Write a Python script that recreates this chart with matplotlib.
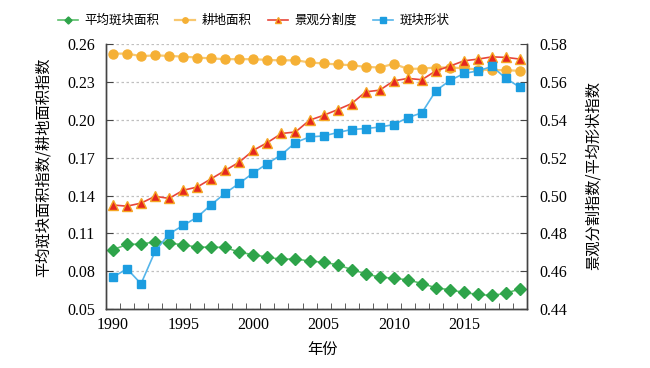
import matplotlib.pyplot as plt
import numpy as np

plt.rcParams['font.family'] = ['Liberation Serif', 'Noto Sans CJK SC', 'DejaVu Sans']

years = np.arange(1990, 2020)

# left axis
patch_area = [0.0970, 0.1013, 0.1015, 0.1034, 0.1023, 0.1010, 0.0991, 0.0991, 0.0989, 0.0951,
              0.0931, 0.0912, 0.0894, 0.0899, 0.0880, 0.0872, 0.0851, 0.0814, 0.0780, 0.0753,
              0.0745, 0.0732, 0.0703, 0.0669, 0.0653, 0.0632, 0.0616, 0.0608, 0.0626, 0.0661]
farmland = [0.2525, 0.2525, 0.2505, 0.2511, 0.2507, 0.2501, 0.2494, 0.2487, 0.2481, 0.2481,
            0.2481, 0.2475, 0.2471, 0.2473, 0.2455, 0.2447, 0.2439, 0.2433, 0.2420, 0.2415,
            0.2444, 0.2404, 0.2406, 0.2415, 0.2415, 0.2409, 0.2399, 0.2394, 0.2394, 0.2388]
# right axis
split_index = [0.4950, 0.4944, 0.4960, 0.4996, 0.4985, 0.5028, 0.5045, 0.5089, 0.5133, 0.5177,
               0.5239, 0.5280, 0.5328, 0.5336, 0.5398, 0.5424, 0.5454, 0.5486, 0.5548, 0.5557,
               0.5606, 0.5619, 0.5612, 0.5659, 0.5684, 0.5712, 0.5721, 0.5733, 0.5730, 0.5721]
shape_index = [0.4569, 0.4613, 0.4534, 0.4705, 0.4798, 0.4842, 0.4886, 0.4952, 0.5013, 0.5065,
               0.5120, 0.5169, 0.5216, 0.5280, 0.5310, 0.5315, 0.5333, 0.5349, 0.5354, 0.5362,
               0.5375, 0.5412, 0.5437, 0.5554, 0.5608, 0.5645, 0.5659, 0.5682, 0.5619, 0.5571]

left_ticks = [0.05, 0.08, 0.11, 0.14, 0.17, 0.20, 0.23, 0.26]
right_ticks = [0.44, 0.46, 0.48, 0.50, 0.52, 0.54, 0.56, 0.58]
names = ['平均斑块面积', '耕地面积', '景观分割度', '斑块形状']

fig = plt.figure(figsize=(6.5, 3.68), dpi=100)
ax = fig.add_axes([0.163, 0.160, 0.648, 0.720])
ax2 = ax.twinx()

l1, = ax.plot(years, patch_area, color='#5cbf6c', lw=1.2, marker='D', ms=6,
              mfc='#2ea44a', mec='#2ea44a')
l2, = ax.plot(years, farmland, color='#f8c870', lw=1.6, marker='o', ms=6.5,
              mfc='#f5b035', mec='#f5b035')
l3, = ax2.plot(years, split_index, color='#e8453a', lw=1.2, marker='^', ms=7.5,
               mfc='#e5271e', mec='#f5a623', mew=1)
l4, = ax2.plot(years, shape_index, color='#55b5ea', lw=1.2, marker='s', ms=6.3,
               mfc='#1c9de0', mec='#1c9de0')

ax.set_xlim(1989.5, 2019.5)
ax.set_ylim(0.05, 0.26)
ax2.set_ylim(0.44, 0.58)
ax.set_yticks(left_ticks)
ax.set_yticklabels(['%.2f' % t for t in left_ticks])
ax2.set_yticks(right_ticks)
ax2.set_yticklabels(['%.2f' % t for t in right_ticks])
ax.set_xticks(np.arange(1990, 2020, 5))
ax.set_xticks(np.arange(1990.5, 2019, 1), minor=True)

ax.yaxis.grid(True, ls=(0, (2, 2)), color='#c0c0c0', lw=0.9)
ax.set_axisbelow(True)

for a in (ax, ax2):
    a.spines['top'].set_visible(False)
    for s in a.spines.values():
        s.set_color('#444444')
        s.set_linewidth(1.0)
ax.tick_params(axis='x', which='major', length=0, pad=6, labelsize=11.5)
ax.tick_params(axis='x', which='minor', direction='in', length=4, color='#444444')
ax.tick_params(axis='y', direction='in', length=5, pad=8, labelsize=11.5, color='#444444')
ax2.tick_params(axis='y', direction='in', length=5, pad=9, labelsize=11.5, color='#444444')

ax.set_xlabel('年份', fontsize=11, family=['Noto Sans CJK SC'])
ax.xaxis.set_label_coords(0.513, -0.12)
ax.set_ylabel('平均斑块面积指数/耕地面积指数', fontsize=11, family=['Noto Sans CJK SC'])
ax.yaxis.set_label_coords(-0.128, 0.536)
ax2.set_ylabel('景观分割指数/平均形状指数', fontsize=11, family=['Noto Sans CJK SC'])
ax2.yaxis.set_label_coords(1.137, 0.506)

fig.legend([l1, l2, l3, l4], names, loc='center', bbox_to_anchor=(0.39, 0.944), ncol=4,
           frameon=False, handlelength=1.6, columnspacing=1.3, handletextpad=0.5,
           borderpad=0.2, markerscale=0.6, prop={'family': 'Noto Sans CJK SC', 'size': 9})

fig.savefig('out.png', dpi=100)
